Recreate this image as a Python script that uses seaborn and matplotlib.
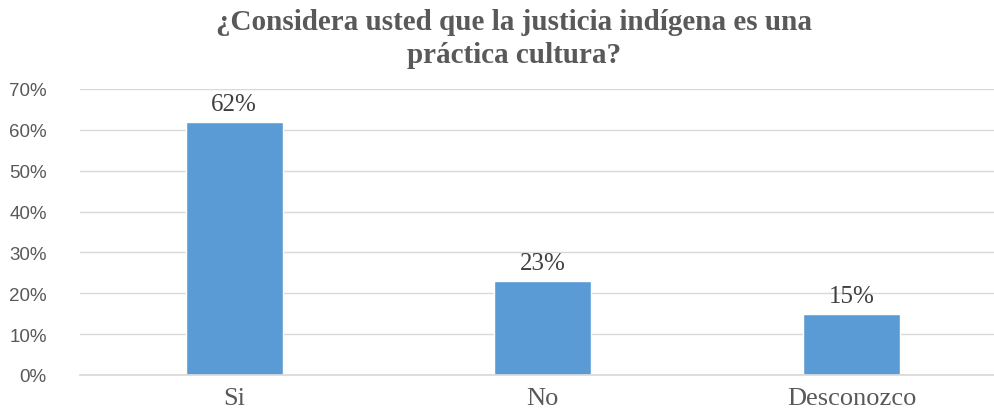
import matplotlib
matplotlib.use("Agg")
import matplotlib.pyplot as plt
import seaborn as sns
import pandas as pd
from matplotlib.ticker import FuncFormatter, MultipleLocator

categories = ["Si", "No", "Desconozco"]
values = [0.62, 0.23, 0.15]
labels = ["62%", "23%", "15%"]
title = "¿Considera usted que la justicia indígena es una\npráctica cultura?"

sns.set_theme(style="white")
plt.rcParams['font.family'] = ['Liberation Serif', 'DejaVu Serif']

W, H = 995, 410
fig = plt.figure(figsize=(W / 100, H / 100), dpi=100)
ax = fig.add_axes([80 / W, (H - 376) / H, (995 - 80) / W, (376 - 90) / H])

df = pd.DataFrame({"cat": categories, "val": values})
sns.barplot(data=df, x="cat", y="val", color="#5B9BD5", width=0.314, ax=ax, saturation=1)

ax.set_ylim(0, 0.70)
ax.set_xlim(-0.5, 2.465)
ax.yaxis.set_major_locator(MultipleLocator(0.1))
ax.yaxis.set_major_formatter(FuncFormatter(lambda v, p: f"{v*100:.0f}%"))
ax.grid(axis="y", color="#D9D9D9", linewidth=1)
ax.set_axisbelow(True)
for s in ["top", "right", "left"]:
    ax.spines[s].set_visible(False)
ax.spines["bottom"].set_color("#D9D9D9")
ax.set_xlabel("")
ax.set_ylabel("")
ax.tick_params(axis="y", length=0, pad=24, labelsize=13.5, labelcolor="#595959")
for t in ax.get_yticklabels():
    t.set_family(["Liberation Sans", "DejaVu Sans"])
ax.tick_params(axis="x", length=0, pad=9, labelsize=19, labelcolor="#595959")

for i, (v, lab) in enumerate(zip(values, labels)):
    ax.annotate(lab, (i, v), xytext=(0, 5), textcoords="offset points",
                ha="center", va="bottom", fontsize=18, color="#404040")

fig.text(514 / W, 1 - 39 / H, title, ha="center", va="center", fontsize=21,
         fontweight="bold", color="#595959", linespacing=1.3)

fig.savefig("out.png", dpi=100)
